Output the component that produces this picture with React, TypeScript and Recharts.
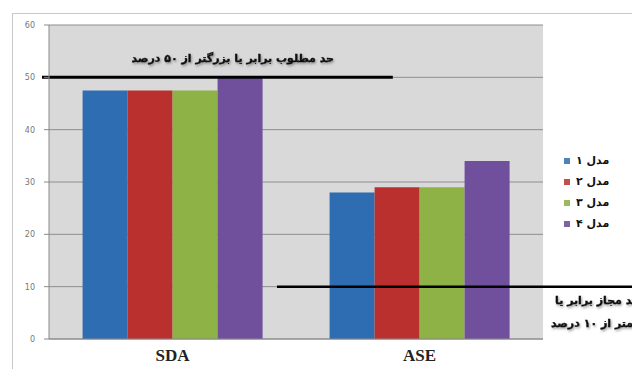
import React from "react";
import {
  BarChart,
  Bar,
  XAxis,
  YAxis,
  CartesianGrid,
  ReferenceLine,
} from "recharts";

const categories = ["SDA", "ASE"];
const model1 = [47.5, 28];
const model2 = [47.5, 29];
const model3 = [47.5, 29];
const model4 = [50, 34];
const seriesNames = ["مدل ۱", "مدل ۲", "مدل ۳", "مدل ۴"];
const yTicks = [0, 10, 20, 30, 40, 50, 60];
const upperLimit = 50;
const lowerLimit = 10;
const upperLabel = "حد مطلوب برابر یا بزرگتر از ۵۰ درصد";
const lowerLabel = ["حد مجاز برابر یا", "کمتر از ۱۰ درصد"];

const barColors = ["#2f6db3", "#b9302e", "#8eb246", "#704f9d"];
const legendColors = ["#4f81bd", "#c0504d", "#9bbb59", "#8064a2"];
const keys = ["m1", "m2", "m3", "m4"];

const data = categories.map((name, i) => ({
  name,
  m1: model1[i],
  m2: model2[i],
  m3: model3[i],
  m4: model4[i],
}));

const arabicFont = "'DejaVu Sans', sans-serif";

// limit line above the bars, with its caption centred over the left group
const UpperLine = (p: any) => {
  const w = p.x2 - p.x1;
  return (
    <g>
      <line x1={p.x1 - 7} y1={p.y1} x2={p.x1 + w * 0.696} y2={p.y2} stroke="#000" strokeWidth={3} />
      <text
        x={p.x1 + w * 0.372}
        y={p.y1 - 15}
        textAnchor="middle"
        direction="rtl"
        fontFamily={arabicFont}
        fontWeight="bold"
        fontSize={11}
        fill="#111"
        stroke="#111"
        strokeWidth={0.4}
        filter="url(#txtShadow)"
      >
        {upperLabel}
      </text>
    </g>
  );
};

// lower limit line running out past the plot, caption below on the right
const LowerLine = (p: any) => {
  const w = p.x2 - p.x1;
  return (
    <g>
      <line x1={p.x1 + w * 0.4615} y1={p.y1} x2={p.x2 + 100} y2={p.y2} stroke="#000" strokeWidth={2.5} />
      {lowerLabel.map((t, i) => (
        <text
          key={t}
          x={p.x2 + 97}
          y={p.y1 + 17 + i * 23}
          textAnchor="start"
          direction="rtl"
          fontFamily={arabicFont}
          fontWeight="bold"
          fontSize={11}
          fill="#111"
          stroke="#111"
          strokeWidth={0.4}
          filter="url(#txtShadow)"
        >
          {t}
        </text>
      ))}
    </g>
  );
};

const LegendBox = () => (
  <div
    style={{
      position: "absolute",
      left: 564,
      top: 150,
      fontFamily: arabicFont,
      fontWeight: "bold",
      fontSize: 11,
      color: "#111",
    }}
  >
    {seriesNames.map((n, i) => (
      <div key={n} style={{ display: "flex", alignItems: "center", height: 21 }}>
        <span
          style={{
            width: 6,
            height: 6,
            background: legendColors[i],
            display: "inline-block",
            marginRight: 6,
          }}
        />
        <span style={{ direction: "rtl" }}>{n}</span>
      </div>
    ))}
  </div>
);

export default function App() {
  return (
    <div style={{ position: "relative", width: 632, height: 369, background: "#fff", overflow: "hidden" }}>
      <style>{"body{margin:0}"}</style>
      <div
        style={{
          position: "absolute",
          left: 12,
          top: 13,
          right: 0,
          bottom: 0,
          borderTop: "1px solid #c8c8c8",
          borderLeft: "1px solid #c8c8c8",
        }}
      />
      <BarChart
        width={632}
        height={369}
        data={data}
        margin={{ top: 25, right: 89, bottom: 0, left: 12 }}
        barCategoryGap="13.6%"
        barGap={0}
        style={{ position: "absolute", left: 0, top: 0 }}
      >
        <defs>
          <filter id="txtShadow" x="-5%" y="-30%" width="110%" height="160%">
            <feDropShadow dx="1" dy="1.5" stdDeviation="1.2" floodColor="#555" floodOpacity="0.6" />
          </filter>
        </defs>
        <CartesianGrid vertical={false} fill="#d9d9d9" stroke="#8e8e8e" />
        <XAxis
          dataKey="name"
          height={30}
          axisLine={{ stroke: "#8a8a8a" }}
          tickLine={false}
          tick={{ fill: "#222", fontSize: 17, fontWeight: "bold", fontFamily: "'Liberation Serif', serif" }}
          tickMargin={4}
        />
        <YAxis
          width={37}
          domain={[0, 60]}
          ticks={yTicks}
          interval={0}
          axisLine={{ stroke: "#8a8a8a" }}
          tickLine={{ stroke: "#8a8a8a" }}
          tickSize={5}
          tickMargin={9}
          tick={{ fill: "#777", fontSize: 8, fontFamily: "'DejaVu Sans', sans-serif" }}
        />
        {keys.map((k, i) => (
          <Bar key={k} dataKey={k} name={seriesNames[i]} fill={barColors[i]} isAnimationActive={false} />
        ))}
        <ReferenceLine y={upperLimit} ifOverflow="visible" shape={UpperLine} />
        <ReferenceLine y={lowerLimit} ifOverflow="visible" shape={LowerLine} />
      </BarChart>
      <LegendBox />
    </div>
  );
}
